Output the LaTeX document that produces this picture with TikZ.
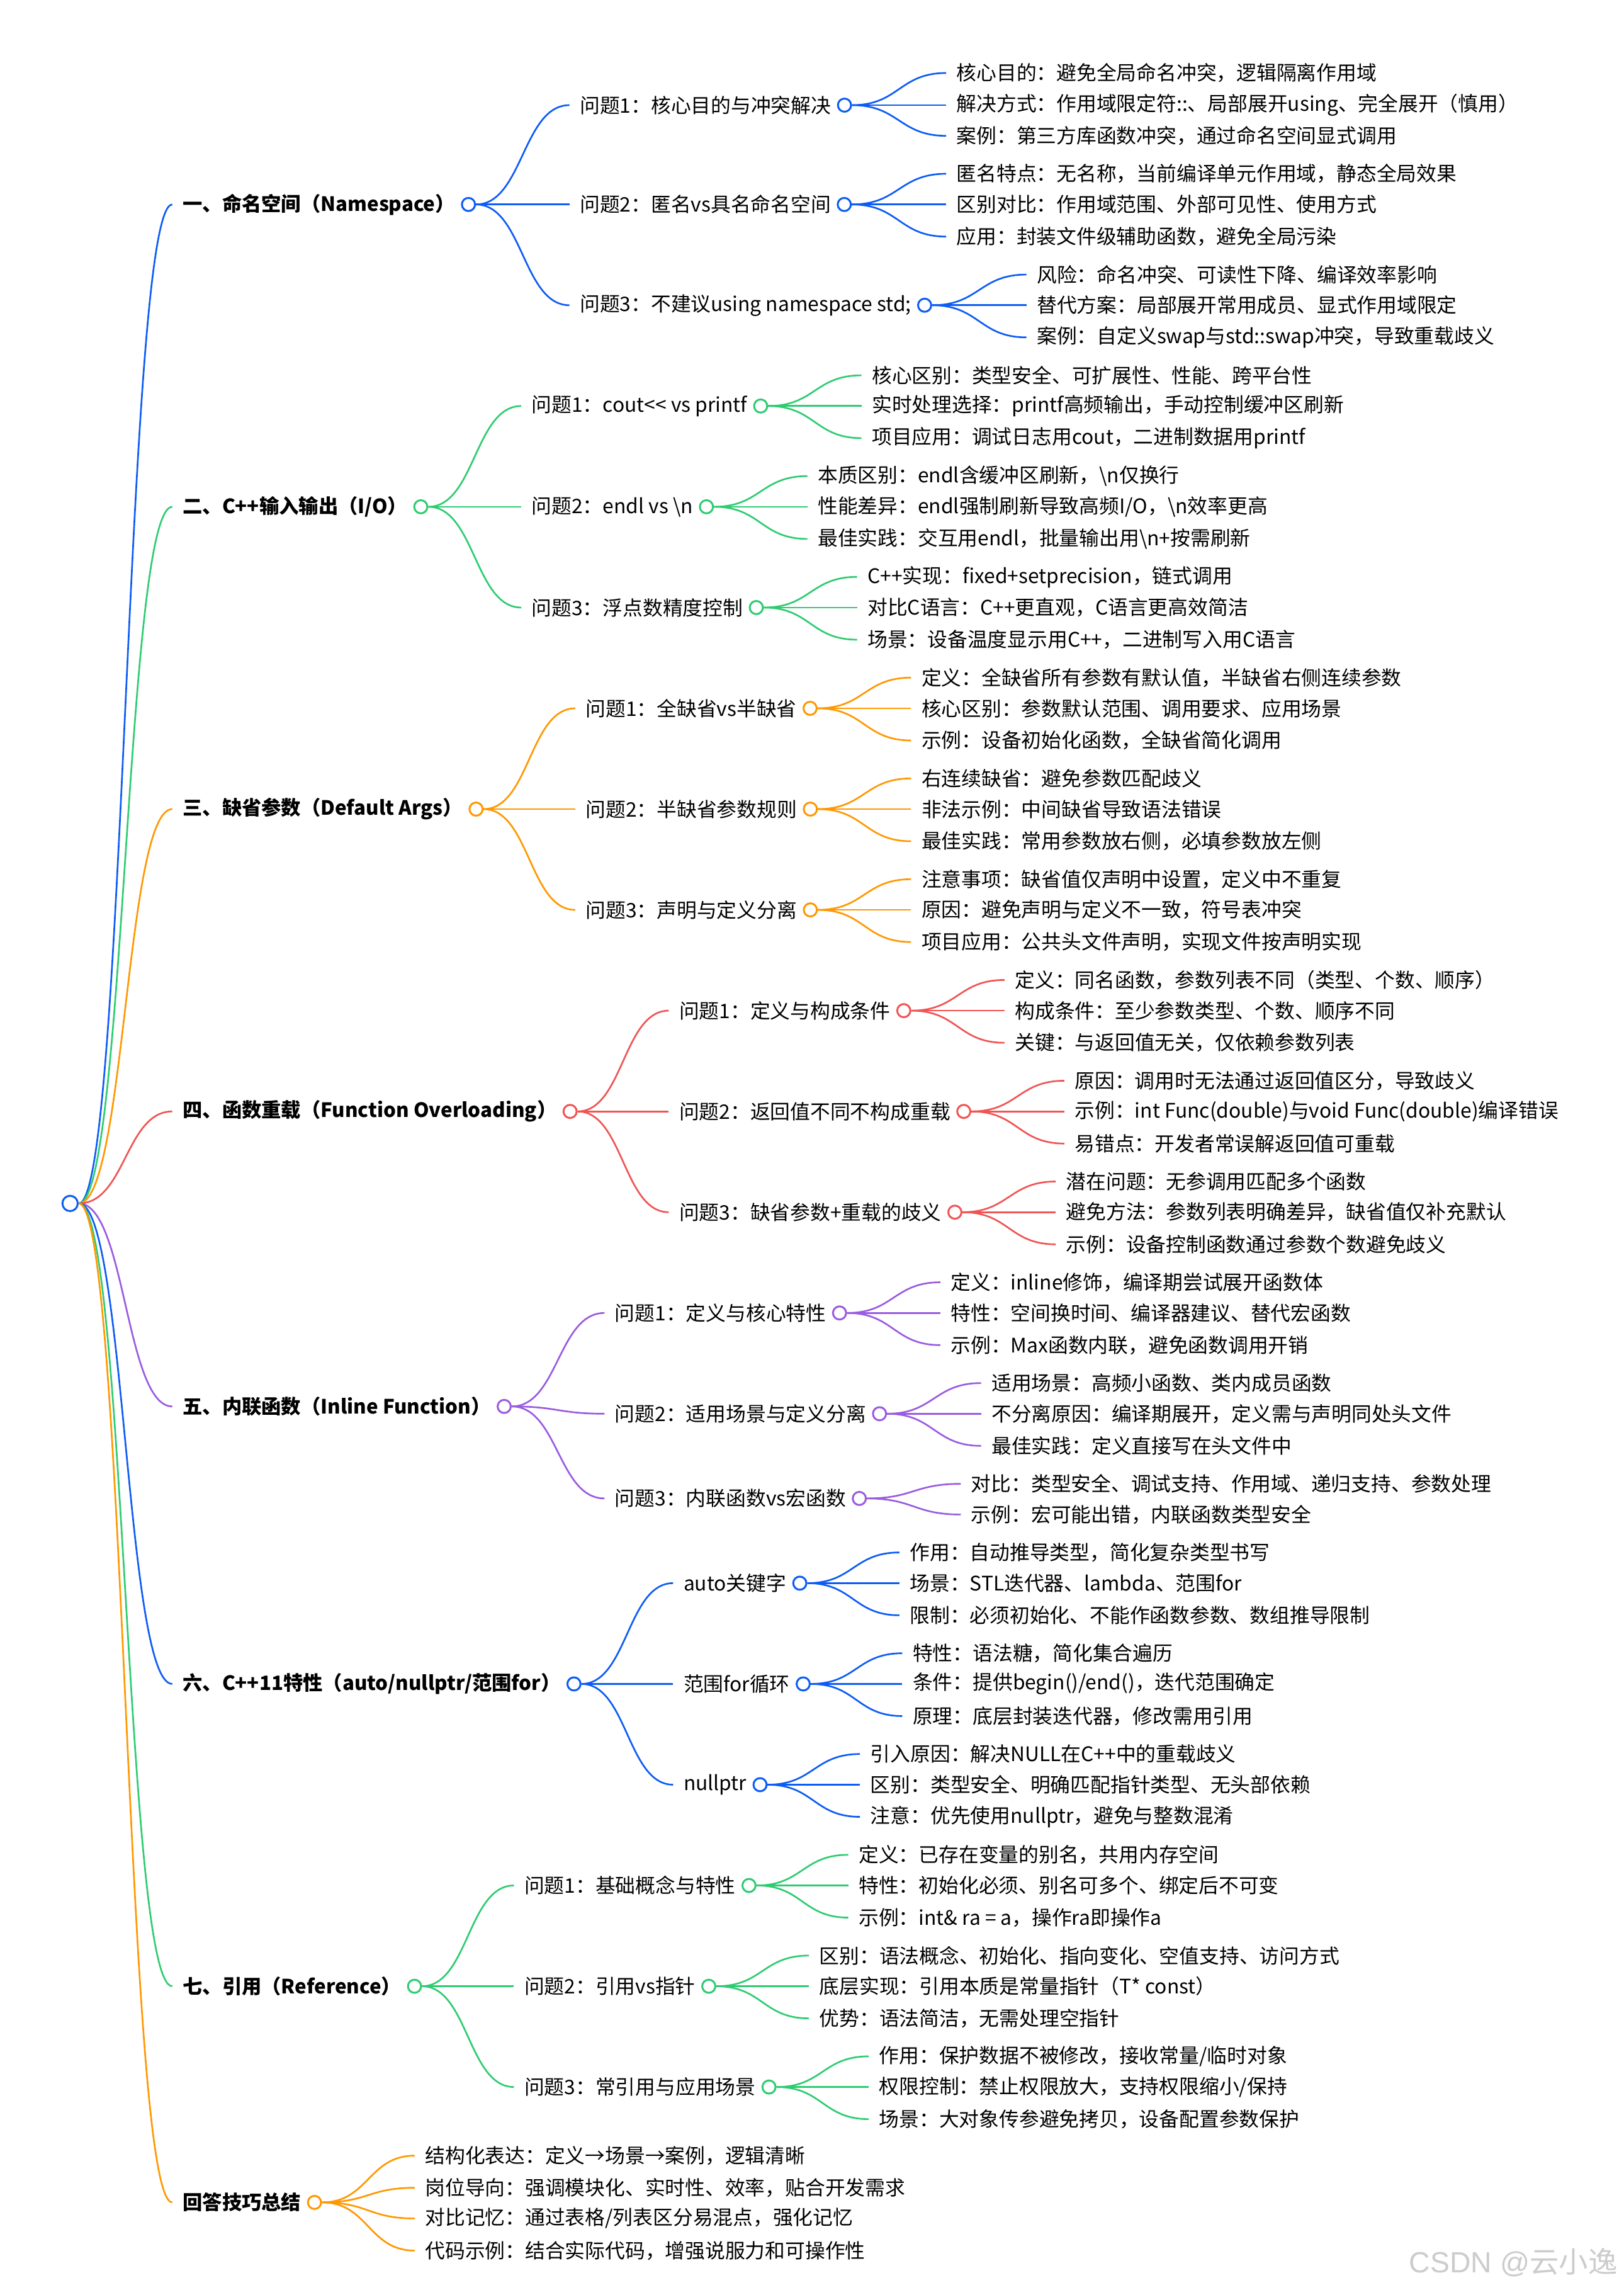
\documentclass[tikz,border=0pt]{standalone}
\usepackage{fontspec}
\setmainfont{Noto Sans CJK SC}
\newfontfamily\wmfont{Liberation Sans}
\usetikzlibrary{calc}
\definecolor{cb}{HTML}{0C5CF5}
\definecolor{cg}{HTML}{2ECC71}
\definecolor{co}{HTML}{FF9800}
\definecolor{cr}{HTML}{F05454}
\definecolor{cp}{HTML}{9A5BE0}
\tikzset{
  txt/.style={anchor=west, inner xsep=7pt, inner ysep=2pt, text=black, font=\fontsize{13.7}{16}\selectfont},
  sec/.style={txt, font=\fontsize{13.5}{16}\selectfont\bfseries},
  dot/.style={circle, draw=#1, fill=white, line width=1.3pt, minimum size=9pt, inner sep=0pt},
  link/.style={line width=1.15pt, draw=#1, to path={.. controls ($(\tikztostart)!0.5!(\tikztotarget |- \tikztostart)$) and ($(\tikztostart |- \tikztotarget)!0.5!(\tikztotarget)$) .. (\tikztotarget)}}
}
\begin{document}
\begin{tikzpicture}[x=1pt,y=-1pt]
\useasboundingbox[fill=white] (0,0) rectangle (1112,1568);

% ---------- section labels ----------
\node[sec] (s1) at (118,140) {一、命名空间（Namespace）};
\node[sec] (s2) at (118,347) {二、C++输入输出（I/O）};
\node[sec] (s3) at (118,554) {三、缺省参数（Default Args）};
\node[sec] (s4) at (118,761) {四、函数重载（Function Overloading）};
\node[sec] (s5) at (118,963) {五、内联函数（Inline Function）};
\node[sec] (s6) at (118,1153) {六、C++11特性（auto/nullptr/范围for）};
\node[sec] (s7) at (118,1360) {七、引用（Reference）};
\node[sec] (s8) at (118,1508) {回答技巧总结};

% ---------- section 1 ----------
\node[txt] (q11) at (390,72) {问题1：核心目的与冲突解决};
\node[txt] (q12) at (390,140) {问题2：匿名vs具名命名空间};
\node[txt] (q13) at (390,209) {问题3：不建议using namespace std;};
\node[txt] (l111) at (648,50) {核心目的：避免全局命名冲突，逻辑隔离作用域};
\node[txt] (l112) at (648,72) {解决方式：作用域限定符::、局部展开using、完全展开（慎用）};
\node[txt] (l113) at (648,93) {案例：第三方库函数冲突，通过命名空间显式调用};
\node[txt] (l121) at (648,119) {匿名特点：无名称，当前编译单元作用域，静态全局效果};
\node[txt] (l122) at (648,140) {区别对比：作用域范围、外部可见性、使用方式};
\node[txt] (l123) at (648,162) {应用：封装文件级辅助函数，避免全局污染};
\node[txt] (l131) at (703,188) {风险：命名冲突、可读性下降、编译效率影响};
\node[txt] (l132) at (703,209) {替代方案：局部展开常用成员、显式作用域限定};
\node[txt] (l133) at (703,231) {案例：自定义swap与std::swap冲突，导致重载歧义};

% ---------- section 2 ----------
\node[txt] (q21) at (357,278) {问题1：cout<{}< vs printf};
\node[txt] (q22) at (357,347) {问题2：endl vs \textbackslash n};
\node[txt] (q23) at (357,416) {问题3：浮点数精度控制};
\node[txt] (l211) at (590,257) {核心区别：类型安全、可扩展性、性能、跨平台性};
\node[txt] (l212) at (590,278) {实时处理选择：printf高频输出，手动控制缓冲区刷新};
\node[txt] (l213) at (590,300) {项目应用：调试日志用cout，二进制数据用printf};
\node[txt] (l221) at (553,326) {本质区别：endl含缓冲区刷新，\textbackslash n仅换行};
\node[txt] (l222) at (553,347) {性能差异：endl强制刷新导致高频I/O，\textbackslash n效率更高};
\node[txt] (l223) at (553,369) {最佳实践：交互用endl，批量输出用\textbackslash n+按需刷新};
\node[txt] (l231) at (587,395) {C++实现：fixed+setprecision，链式调用};
\node[txt] (l232) at (587,416) {对比C语言：C++更直观，C语言更高效简洁};
\node[txt] (l233) at (587,438) {场景：设备温度显示用C++，二进制写入用C语言};

% ---------- section 3 ----------
\node[txt] (q31) at (394,485) {问题1：全缺省vs半缺省};
\node[txt] (q32) at (394,554) {问题2：半缺省参数规则};
\node[txt] (q33) at (394,623) {问题3：声明与定义分离};
\node[txt] (l311) at (624,464) {定义：全缺省所有参数有默认值，半缺省右侧连续参数};
\node[txt] (l312) at (624,485) {核心区别：参数默认范围、调用要求、应用场景};
\node[txt] (l313) at (624,507) {示例：设备初始化函数，全缺省简化调用};
\node[txt] (l321) at (624,533) {右连续缺省：避免参数匹配歧义};
\node[txt] (l322) at (624,554) {非法示例：中间缺省导致语法错误};
\node[txt] (l323) at (624,576) {最佳实践：常用参数放右侧，必填参数放左侧};
\node[txt] (l331) at (624,602) {注意事项：缺省值仅声明中设置，定义中不重复};
\node[txt] (l332) at (624,623) {原因：避免声明与定义不一致，符号表冲突};
\node[txt] (l333) at (624,645) {项目应用：公共头文件声明，实现文件按声明实现};

% ---------- section 4 ----------
\node[txt] (q41) at (458,692) {问题1：定义与构成条件};
\node[txt] (q42) at (458,761) {问题2：返回值不同不构成重载};
\node[txt] (q43) at (458,830) {问题3：缺省参数+重载的歧义};
\node[txt] (l411) at (688,671) {定义：同名函数，参数列表不同（类型、个数、顺序）};
\node[txt] (l412) at (688,692) {构成条件：至少参数类型、个数、顺序不同};
\node[txt] (l413) at (688,714) {关键：与返回值无关，仅依赖参数列表};
\node[txt] (l421) at (729,740) {原因：调用时无法通过返回值区分，导致歧义};
\node[txt] (l422) at (729,761) {示例：int Func(double)与void Func(double)编译错误};
\node[txt] (l423) at (729,783) {易错点：开发者常误解返回值可重载};
\node[txt] (l431) at (723,809) {潜在问题：无参调用匹配多个函数};
\node[txt] (l432) at (723,830) {避免方法：参数列表明确差异，缺省值仅补充默认};
\node[txt] (l433) at (723,852) {示例：设备控制函数通过参数个数避免歧义};

% ---------- section 5 ----------
\node[txt] (q51) at (414,899) {问题1：定义与核心特性};
\node[txt] (q52) at (414,968) {问题2：适用场景与定义分离};
\node[txt] (q53) at (414,1026) {问题3：内联函数vs宏函数};
\node[txt] (l511) at (644,878) {定义：inline修饰，编译期尝试展开函数体};
\node[txt] (l512) at (644,899) {特性：空间换时间、编译器建议、替代宏函数};
\node[txt] (l513) at (644,921) {示例：Max函数内联，避免函数调用开销};
\node[txt] (l521) at (672,947) {适用场景：高频小函数、类内成员函数};
\node[txt] (l522) at (672,968) {不分离原因：编译期展开，定义需与声明同处头文件};
\node[txt] (l523) at (672,990) {最佳实践：定义直接写在头文件中};
\node[txt] (l531) at (658,1016) {对比：类型安全、调试支持、作用域、递归支持、参数处理};
\node[txt] (l532) at (658,1037) {示例：宏可能出错，内联函数类型安全};

% ---------- section 6 ----------
\node[txt] (q61) at (461,1084) {auto关键字};
\node[txt] (q62) at (461,1153) {范围for循环};
\node[txt] (q63) at (461,1222) {nullptr};
\node[txt] (l611) at (616,1063) {作用：自动推导类型，简化复杂类型书写};
\node[txt] (l612) at (616,1084) {场景：STL迭代器、lambda、范围for};
\node[txt] (l613) at (616,1106) {限制：必须初始化、不能作函数参数、数组推导限制};
\node[txt] (l621) at (618,1132) {特性：语法糖，简化集合遍历};
\node[txt] (l622) at (618,1153) {条件：提供begin()/end()，迭代范围确定};
\node[txt] (l623) at (618,1175) {原理：底层封装迭代器，修改需用引用};
\node[txt] (l631) at (589,1201) {引入原因：解决NULL在C++中的重载歧义};
\node[txt] (l632) at (589,1222) {区别：类型安全、明确匹配指针类型、无头部依赖};
\node[txt] (l633) at (589,1244) {注意：优先使用nullptr，避免与整数混淆};

% ---------- section 7 ----------
\node[txt] (q71) at (352,1291) {问题1：基础概念与特性};
\node[txt] (q72) at (352,1360) {问题2：引用vs指针};
\node[txt] (q73) at (352,1429) {问题3：常引用与应用场景};
\node[txt] (l711) at (581,1270) {定义：已存在变量的别名，共用内存空间};
\node[txt] (l712) at (581,1291) {特性：初始化必须、别名可多个、绑定后不可变};
\node[txt] (l713) at (581,1313) {示例：int\& ra = a，操作ra即操作a};
\node[txt] (l721) at (554,1339) {区别：语法概念、初始化、指向变化、空值支持、访问方式};
\node[txt] (l722) at (554,1360) {底层实现：引用本质是常量指针（T* const）};
\node[txt] (l723) at (554,1382) {优势：语法简洁，无需处理空指针};
\node[txt] (l731) at (595,1408) {作用：保护数据不被修改，接收常量/临时对象};
\node[txt] (l732) at (595,1429) {权限控制：禁止权限放大，支持权限缩小/保持};
\node[txt] (l733) at (595,1451) {场景：大对象传参避免拷贝，设备配置参数保护};

% ---------- section 8 ----------
\node[txt] (l81) at (284,1476) {结构化表达：定义→场景→案例，逻辑清晰};
\node[txt] (l82) at (284,1498) {岗位导向：强调模块化、实时性、效率，贴合开发需求};
\node[txt] (l83) at (284,1519) {对比记忆：通过表格/列表区分易混点，强化记忆};
\node[txt] (l84) at (284,1541) {代码示例：结合实际代码，增强说服力和可操作性};

% ---------- circles ----------
\node[dot=cb, minimum size=10.5pt] (r) at (48,824) {};
\foreach \s/\c in {s1/cb,s2/cg,s3/co,s4/cr,s5/cp,s6/cb,s7/cg,s8/co}{
  \node[dot=\c] (\s c) at ([xshift=2pt]\s.east) {};
}
\foreach \q/\c in {q11/cb,q12/cb,q13/cb,q21/cg,q22/cg,q23/cg,q31/co,q32/co,q33/co,q41/cr,q42/cr,q43/cr,q51/cp,q52/cp,q53/cp,q61/cb,q62/cb,q63/cb,q71/cg,q72/cg,q73/cg}{
  \node[dot=\c] (\q c) at ([xshift=2pt]\q.east) {};
}

% ---------- connectors: root -> sections ----------
\foreach \s/\c in {s1/cb,s2/cg,s3/co,s4/cr,s5/cp,s6/cb,s7/cg,s8/co}{
  \draw[link=\c] (r.east) to (\s.west);
}
% sections -> questions
\foreach \s/\c in {1/cb,2/cg,3/co,4/cr,5/cp,6/cb,7/cg}{
  \foreach \k in {1,2,3}{
    \draw[link=\c] (s\s c.east) to (q\s\k.west);
  }
}
% questions -> leaves
\foreach \q/\c in {11/cb,12/cb,13/cb,21/cg,22/cg,23/cg,31/co,32/co,33/co,41/cr,42/cr,43/cr,51/cp,52/cp,61/cb,62/cb,63/cb,71/cg,72/cg,73/cg}{
  \foreach \k in {1,2,3}{
    \draw[link=\c] (q\q c.east) to (l\q\k.west);
  }
}
\foreach \k in {1,2}{
  \draw[link=cp] (q53c.east) to (l53\k.west);
}
\foreach \k in {1,2,3,4}{
  \draw[link=co] (s8c.east) to (l8\k.west);
}

% ---------- watermark ----------
\node[text=black!20, font=\fontsize{20}{22}\selectfont, anchor=east, inner sep=0pt] (wm) at (1108,1549) {{\wmfont CSDN @}云小逸};
\end{tikzpicture}
\end{document}
